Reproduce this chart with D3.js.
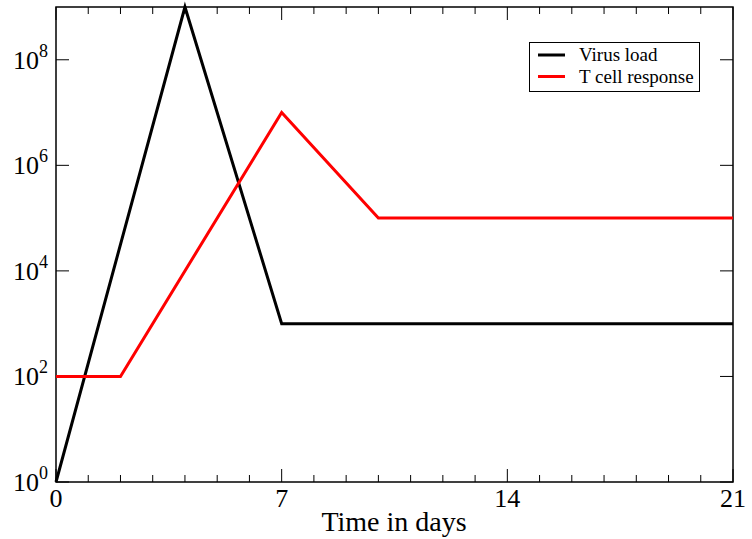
<!DOCTYPE html>
<html><head><meta charset="utf-8">
<script src="https://cdn.jsdelivr.net/npm/d3@7"></script>
<style>body{margin:0;background:#fff}svg{display:block}text{font-family:"Liberation Serif","Times New Roman",serif}</style>
</head><body>
<svg id="c" width="752" height="539"></svg>
<script>
const seriesNames = ["Virus load", "T cell response"];
const seriesColors = ["#000000", "#ff0000"];
const virusDays = [0, 4, 7, 21];
const virusValues = [1, 1e9, 1e3, 1e3];
const tcellDays = [0, 2, 7, 10, 21];
const tcellValues = [1e2, 1e2, 1e7, 1e5, 1e5];
const xMajorTicks = [0, 7, 14, 21];
const xMinorTicks = d3.range(0, 22);
const yTickExponents = [0, 2, 4, 6, 8];
const xLabel = "Time in days";

const svg = d3.select("#c");
const L = 56, R = 733, T = 7, B = 482;
const x = d3.scaleLinear().domain([0, 21]).range([L, R]);
const y = d3.scaleLog().domain([1, 1e9]).range([B, T]);

const ax = svg.append("g");
ax.append("rect").attr("x", L).attr("y", T).attr("width", R - L).attr("height", B - T)
  .attr("fill", "none").attr("stroke", "#000").attr("stroke-width", 1.5);

xMinorTicks.forEach(d => {
  const major = xMajorTicks.includes(d);
  const len = major ? 13 : 7;
  ax.append("line").attr("x1", x(d)).attr("x2", x(d)).attr("y1", B).attr("y2", B - len).attr("stroke", "#000").attr("stroke-width", 1);
  ax.append("line").attr("x1", x(d)).attr("x2", x(d)).attr("y1", T).attr("y2", T + len).attr("stroke", "#000").attr("stroke-width", 1);
});
xMajorTicks.forEach(d => {
  ax.append("text").attr("x", x(d)).attr("y", 507).attr("text-anchor", "middle")
    .attr("font-size", 26).text(d);
});
yTickExponents.forEach(e => {
  const v = Math.pow(10, e);
  ax.append("line").attr("x1", L).attr("x2", L + 13).attr("y1", y(v)).attr("y2", y(v)).attr("stroke", "#000").attr("stroke-width", 1);
  ax.append("line").attr("x1", R).attr("x2", R - 13).attr("y1", y(v)).attr("y2", y(v)).attr("stroke", "#000").attr("stroke-width", 1);
  const t = ax.append("text").attr("x", 13).attr("y", y(v) + 9).attr("font-size", 26);
  t.append("tspan").text("10");
  t.append("tspan").attr("dy", -12).attr("font-size", 18).text(e);
});
ax.append("text").attr("x", 394).attr("y", 531).attr("text-anchor", "middle").attr("font-size", 28).text(xLabel);

const line = d3.line().x(d => x(d[0])).y(d => y(d[1]));
const series = [
  d3.zip(virusDays, virusValues),
  d3.zip(tcellDays, tcellValues)
];
series.forEach((s, i) => {
  svg.append("path").datum(s).attr("d", line).attr("fill", "none")
    .attr("stroke", seriesColors[i]).attr("stroke-width", 3).attr("stroke-linejoin", "miter");
});

const lg = svg.append("g");
lg.append("rect").attr("x", 529.5).attr("y", 42.5).attr("width", 170).attr("height", 49)
  .attr("fill", "#fff").attr("stroke", "#000").attr("stroke-width", 1);
seriesNames.forEach((n, i) => {
  const yy = 55 + i * 21.5;
  lg.append("line").attr("x1", 538).attr("x2", 565).attr("y1", yy).attr("y2", yy).attr("stroke", seriesColors[i]).attr("stroke-width", 3);
  lg.append("text").attr("x", 579).attr("y", yy + 6).attr("font-size", 19).text(n);
});
</script>
</body></html>
